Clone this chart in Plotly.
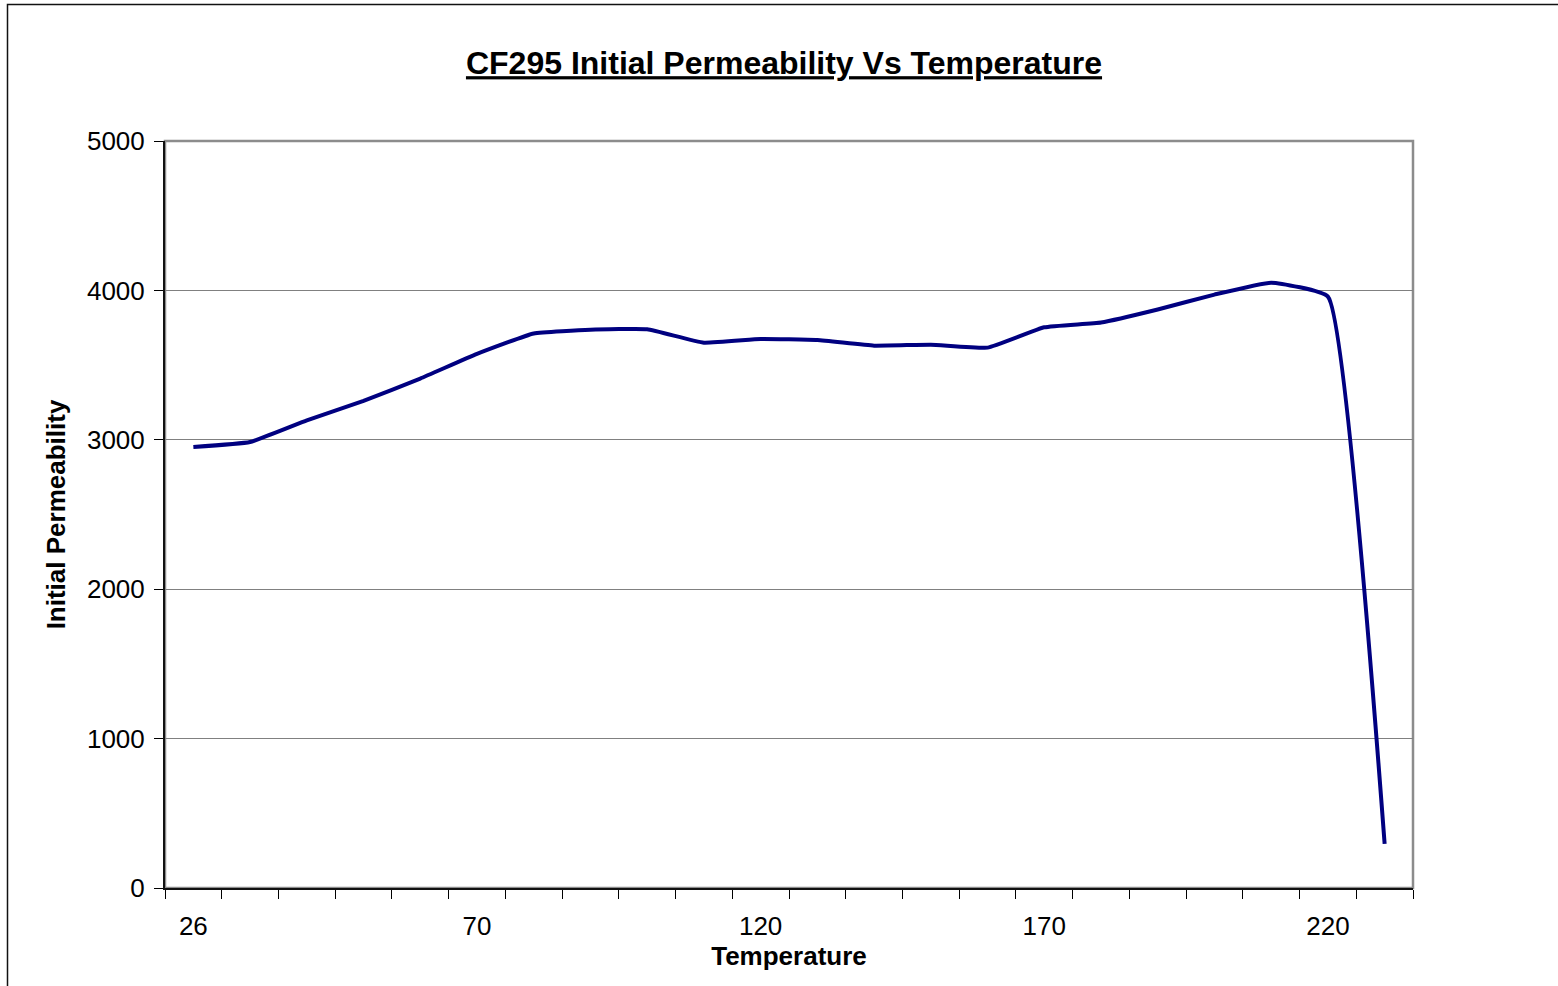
import plotly.graph_objects as go

temperature = ["26", "30", "40", "50", "60", "70", "80", "90", "100", "110", "120",
               "130", "140", "150", "160", "170", "180", "190", "200", "210", "220", "230"]
permeability = [2952, 2985, 3130, 3260, 3410, 3575, 3712, 3737, 3740, 3650, 3675,
                3668, 3630, 3637, 3617, 3753, 3785, 3872, 3972, 4052, 3958, 295]
labelled = ["26", "70", "120", "170", "220"]
tick_text = [t if t in labelled else "" for t in temperature]
y_ticks = [0, 1000, 2000, 3000, 4000, 5000]

W, H = 1558, 986
L, R, T, B = 165, 1413, 141, 888
pw, ph = R - L, B - T

def px(x):
    return (x - L) / pw

def py(y):
    return (B - y) / ph

FONT = "Liberation Sans, Arial, sans-serif"
n = len(temperature)

fig = go.Figure()
fig.add_trace(go.Scatter(
    x=temperature, y=permeability, mode="lines", xaxis="x2", yaxis="y",
    line=dict(color="#000080", width=4, shape="spline", smoothing=0.35),
    showlegend=False, hoverinfo="x+y"))

fig.update_layout(
    width=W, height=H,
    margin=dict(l=L, r=W - R, t=T, b=H - B, pad=0),
    paper_bgcolor="white", plot_bgcolor="white",
    font=dict(family=FONT, color="black"),
    title=dict(text="<b><u>CF295 Initial Permeability Vs Temperature</u></b>",
               x=784 / W, xanchor="center",
               y=1 - 63 / H, yanchor="middle",
               font=dict(size=32, family=FONT, color="black")),
    shapes=[
        dict(type="rect", xref="paper", yref="paper", x0=0, y0=0, x1=1, y1=1,
             line=dict(color="#8c8c8c", width=2.5), layer="below"),
        dict(type="rect", xref="paper", yref="paper",
             x0=px(7.5), y0=py(1020), x1=px(1600), y1=py(4.5),
             line=dict(color="#111111", width=1.5), layer="below"),
    ],
    # base axis: only the upper halves of the crossing tick marks
    xaxis=dict(
        range=[-0.5, n - 0.5], tickmode="array",
        tickvals=[i - 0.5 for i in range(n + 1)],
        ticks="inside", ticklen=9, tickwidth=1, tickcolor="black",
        showticklabels=False, showgrid=False, showline=False, zeroline=False,
    ),
    # category axis carrying the data, labels and outside tick halves
    xaxis2=dict(
        overlaying="x", anchor="y", side="bottom",
        type="category", categoryorder="array", categoryarray=temperature,
        range=[-0.5, n - 0.5],
        tickmode="array", tickvals=temperature, ticktext=tick_text,
        tickson="boundaries", ticks="outside", ticklen=9, tickwidth=1, tickcolor="black",
        ticklabelstandoff=14,
        showgrid=False, showline=True, linecolor="#111111", linewidth=2,
        tickfont=dict(size=26, family=FONT, color="black"),
        title=dict(text="<b>Temperature</b>", standoff=0,
                   font=dict(size=26, family=FONT, color="black")),
        zeroline=False,
    ),
    yaxis=dict(
        range=[0, 5000], tickmode="array", tickvals=y_ticks,
        ticks="outside", ticklen=9, tickwidth=1, tickcolor="black",
        ticklabelstandoff=4,
        showgrid=True, gridcolor="#808080", gridwidth=1,
        showline=True, linecolor="#111111", linewidth=2,
        tickfont=dict(size=26, family=FONT, color="black"),
        title=dict(text="<b>Initial Permeability</b>", standoff=14,
                   font=dict(size=26, family=FONT, color="black")),
        zeroline=False,
    ),
)

fig.write_html("out.html", config={"displayModeBar": False},
               post_script="document.body.style.margin='0';")
